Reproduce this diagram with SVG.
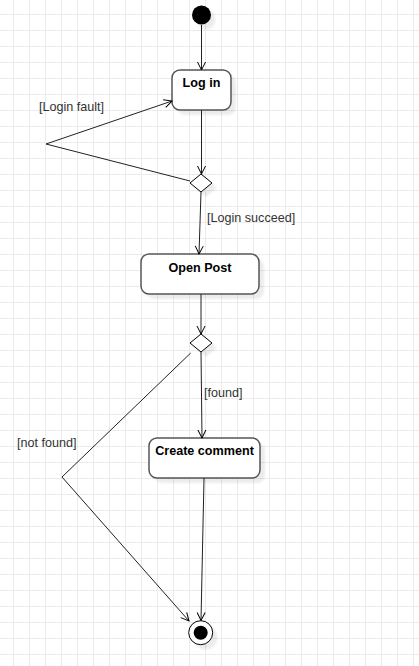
<svg xmlns="http://www.w3.org/2000/svg" width="419" height="666" viewBox="0 0 419 666">
<style>
.box{fill:#fff;stroke:#555;stroke-width:1.5}
.shadow{fill:#000;opacity:0.07}
.ttl{font-family:"Liberation Sans",Arial,sans-serif;font-size:12.6px;font-weight:bold;fill:#000;text-anchor:middle}
.lbl{font-family:"Liberation Sans",Arial,sans-serif;font-size:12.6px;fill:#333}
.edge{fill:none;stroke:#222;stroke-width:1}
.dia{fill:#fff;stroke:#000;stroke-width:1}
</style>
<defs>
<pattern id="grid" x="13" y="14" width="16" height="16" patternUnits="userSpaceOnUse">
<path d="M0.5,0 V16 M0,0.5 H16" fill="none" stroke="#ebebeb" stroke-width="1"/>
</pattern>
<filter id="blur" x="-20%" y="-20%" width="140%" height="140%"><feGaussianBlur stdDeviation="1.2"/></filter>
<marker id="arr" markerWidth="12" markerHeight="10" refX="10" refY="5" orient="auto" markerUnits="userSpaceOnUse" viewBox="0 0 12 10">
<path d="M2,1 L10,5 L2,9" fill="none" stroke="#000" stroke-width="1"/>
</marker>
</defs>
<rect width="419" height="666" fill="#fff"/>
<rect width="419" height="666" fill="url(#grid)"/>

<g id="start">
<circle cx="206" cy="20" r="9.5" class="shadow" filter="url(#blur)"/>
<circle cx="201.5" cy="15" r="9.5" fill="#000"/>
</g>

<g id="login">
<rect x="177" y="75" width="59" height="40" rx="8" class="shadow" filter="url(#blur)"/>
<rect x="172" y="70" width="59" height="40" rx="8" class="box"/>
<text x="201.5" y="86.5" class="ttl">Log in</text>
</g>

<g id="decision1">
<path d="M206,179 L217,188 L206,197 L195,188 Z" class="shadow" filter="url(#blur)"/>
<path d="M201,174 L212,183 L201,192 L190,183 Z" class="dia"/>
</g>

<g id="openpost">
<rect x="146" y="259" width="118" height="40" rx="8" class="shadow" filter="url(#blur)"/>
<rect x="141" y="254" width="118" height="40" rx="8" class="box"/>
<text x="200" y="271.5" class="ttl">Open Post</text>
</g>

<g id="decision2">
<path d="M206,339 L217,348 L206,357 L195,348 Z" class="shadow" filter="url(#blur)"/>
<path d="M201,334 L212,343 L201,352 L190,343 Z" class="dia"/>
</g>

<g id="createcomment">
<rect x="154" y="443" width="111" height="40" rx="8" class="shadow" filter="url(#blur)"/>
<rect x="149" y="438" width="111" height="40" rx="8" class="box"/>
<text x="204.5" y="454.5" class="ttl">Create comment</text>
</g>

<g id="end">
<circle cx="205.5" cy="637.5" r="12" class="shadow" filter="url(#blur)"/>
<circle cx="200.7" cy="632.7" r="12" fill="#fff" stroke="#000" stroke-width="1"/>
<circle cx="200.7" cy="632.7" r="7" fill="#000"/>
</g>

<g id="connectors">
<path d="M201.5,25 L201.5,70" class="edge" marker-end="url(#arr)"/>
<path d="M201.5,110 L201.5,174" class="edge" marker-end="url(#arr)"/>
<path d="M201,192 L199,254" class="edge" marker-end="url(#arr)"/>
<path d="M190,181 L46,144 L172,101" class="edge" marker-end="url(#arr)"/>
<path d="M201,294 L201,334" class="edge" marker-end="url(#arr)"/>
<path d="M201,352 L202,438" class="edge" marker-end="url(#arr)"/>
<path d="M190.7,353 L62,477 L189,621" class="edge" marker-end="url(#arr)"/>
<path d="M204,478 L201,620.5" class="edge" marker-end="url(#arr)"/>
<text x="39" y="111" class="lbl">[Login fault]</text>
<text x="207" y="222" class="lbl">[Login succeed]</text>
<text x="204" y="397" class="lbl">[found]</text>
<text x="17" y="447" class="lbl">[not found]</text>
</g>
</svg>
